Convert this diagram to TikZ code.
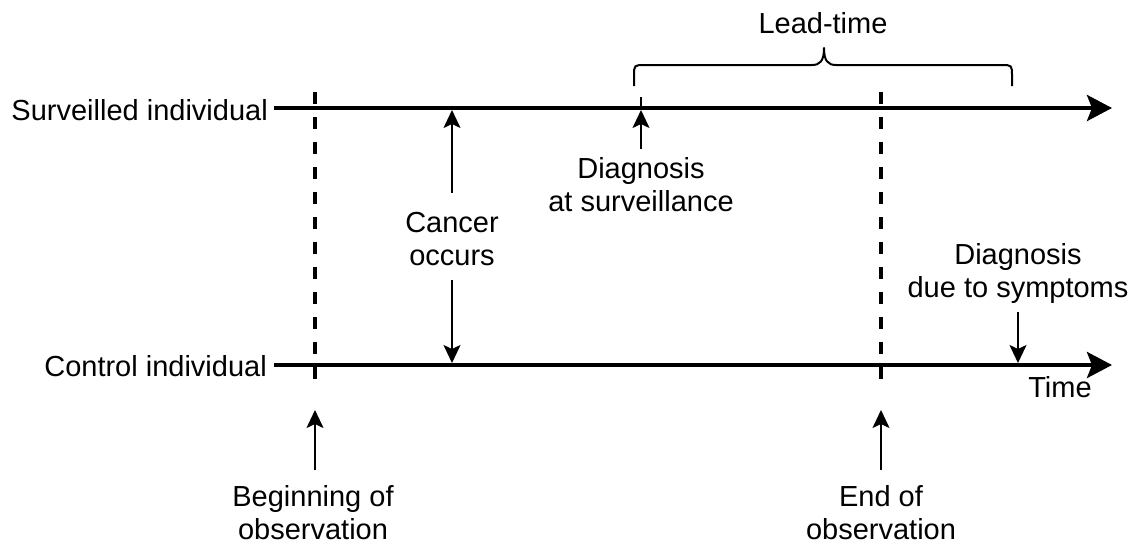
\documentclass[tikz,border=0pt]{standalone}
\usepackage{fontspec}
\setmainfont{Liberation Sans}
\usetikzlibrary{arrows.meta}
\begin{document}
\begin{tikzpicture}[x=1pt,y=-1pt,
  lbl/.style={inner sep=0pt,font=\fontsize{29}{33}\selectfont},
  mlbl/.style={lbl,align=center},
  axis/.style={line width=4pt,-{Stealth[length=25pt,width=26pt,inset=5pt]}},
  obsline/.style={line width=4pt,dash pattern=on 12pt off 13pt},
  pointer/.style={line width=2pt,-{Stealth[length=18pt,width=17pt,inset=4pt]}},
  brace/.style={line width=2pt,line join=round}]
\useasboundingbox (0,0) rectangle (1133,544);

% time lines
\node[lbl,anchor=base east] (surv) at (268,120) {Surveilled individual};
\node[lbl,anchor=base east] (ctrl) at (267,376) {Control individual};
\coordinate (survS) at (274,108);
\coordinate (survE) at (1112,108);
\coordinate (ctrlS) at (274,365);
\coordinate (ctrlE) at (1112,365);
\draw[axis] (survS) -- (survE);
\draw[axis] (ctrlS) -- (ctrlE);
\node[lbl,anchor=base] (time) at (1060,397) {Time};

% observation window
\coordinate (obsAtop) at (315,92);
\coordinate (obsAbot) at (315,386);
\coordinate (obsBtop) at (881,92);
\coordinate (obsBbot) at (881,386);
\draw[obsline] (obsAtop) -- (obsAbot);
\draw[obsline] (obsBtop) -- (obsBbot);

\node[mlbl] (begin) at (313,513) {Beginning of\\observation};
\node[mlbl] (end) at (881,513) {End of\\observation};
\coordinate (beginTip) at (315,410);
\coordinate (endTip) at (881,410);
\draw[pointer] (begin.north -| beginTip) ++(0,-16) -- (beginTip);
\draw[pointer] (end.north -| endTip) ++(0,-16) -- (endTip);

% cancer onset
\node[mlbl] (cancer) at (452,239) {Cancer\\occurs};
\coordinate (cancerUp) at (452,110);
\coordinate (cancerDown) at (452,363);
\draw[pointer] (cancer.north) ++(0,-19) -- (cancerUp);
\draw[pointer] (cancer.south) ++(0,14) -- (cancerDown);

% diagnosis at surveillance
\node[mlbl] (dsurv) at (641,185) {Diagnosis\\at surveillance};
\coordinate (dsurvTip) at (641,110);
\coordinate (tickTop) at (641,97);
\coordinate (tickBot) at (641,108);
\draw[line width=2pt] (tickTop) -- (tickBot);
\draw[pointer] (dsurv.north) ++(0,-9) -- (dsurvTip);

% diagnosis due to symptoms
\node[mlbl] (dsym) at (1018,273) {Diagnosis\\due to symptoms};
\coordinate (dsymTip) at (1018,363);
\draw[pointer] (dsym.south) ++(0,9) -- (dsymTip);

% lead time brace
\coordinate (brL) at (634,86);
\coordinate (brR) at (1012,86);
\coordinate (brM) at (824,48);
\draw[brace] (brL) -- (634,76) .. controls (634,65) .. (645,65) -- (812,65)
  .. controls (820,65) and (824,61) .. (brM)
  .. controls (824,61) and (828,65) .. (836,65) -- (1001,65)
  .. controls (1012,65) .. (1012,76) -- (brR);
\node[lbl,anchor=base] (lead) at (823,33) {Lead-time};
\end{tikzpicture}
\end{document}
